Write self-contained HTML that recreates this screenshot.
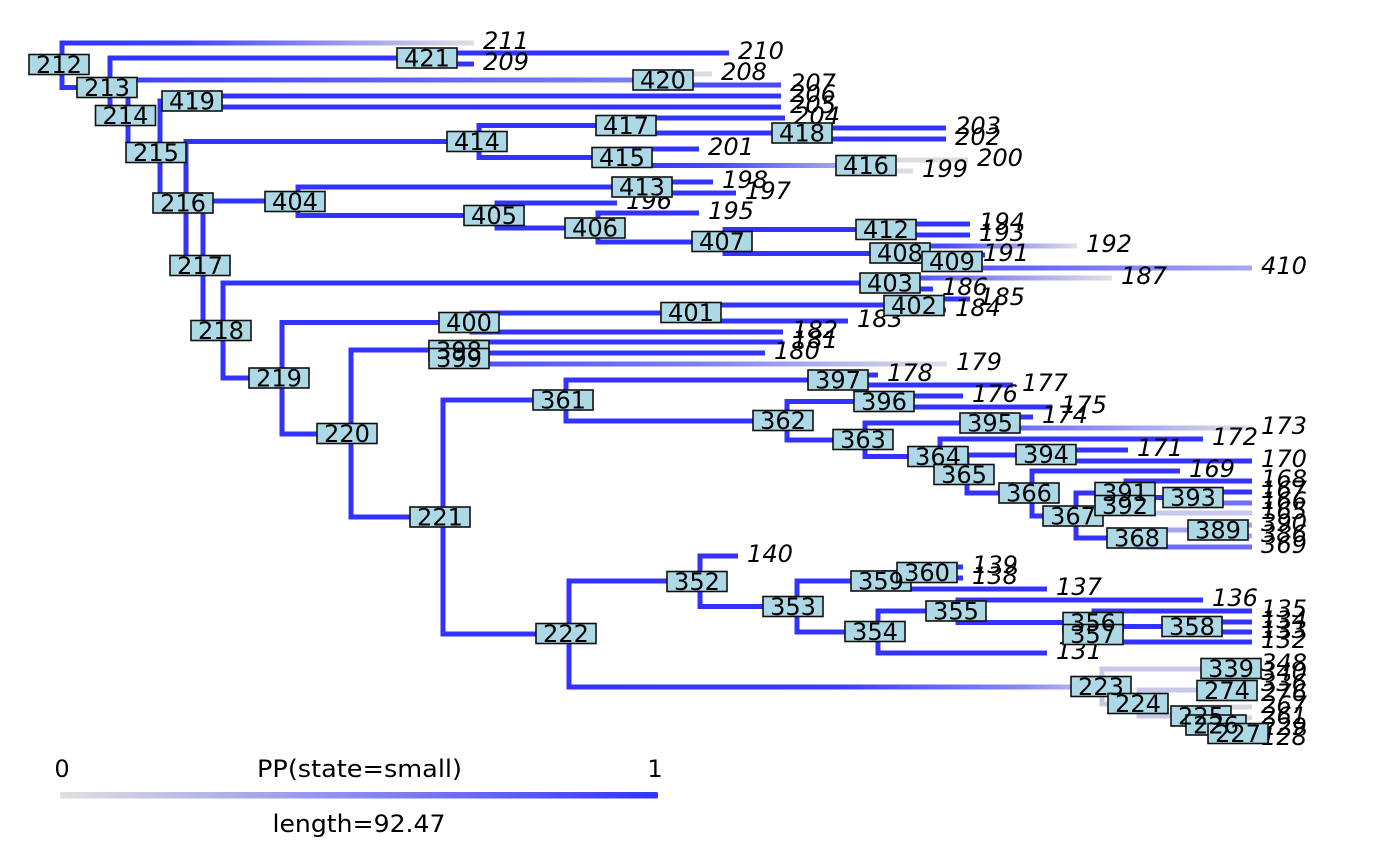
<!DOCTYPE html>
<html><head><meta charset="utf-8"><style>
html,body{margin:0;padding:0;background:#fff;width:1400px;height:866px;overflow:hidden}
svg{display:block}
</style></head><body>
<svg width="1400" height="866" viewBox="0 0 1400 866" xmlns="http://www.w3.org/2000/svg">
<defs>
<linearGradient id="g211" gradientUnits="userSpaceOnUse" x1="60" y1="0" x2="474" y2="0"><stop offset="0" stop-color="#3333ff"/><stop offset="0.3" stop-color="#4242fc"/><stop offset="1" stop-color="#e0e0e4"/></linearGradient>
<linearGradient id="g420" gradientUnits="userSpaceOnUse" x1="126" y1="0" x2="668" y2="0"><stop offset="0" stop-color="#4040ff"/><stop offset="1" stop-color="#8080f0"/></linearGradient>
<linearGradient id="g416" gradientUnits="userSpaceOnUse" x1="623" y1="0" x2="871" y2="0"><stop offset="0" stop-color="#3333ff"/><stop offset="0.4" stop-color="#4a4aff"/><stop offset="1" stop-color="#c0c0ec"/></linearGradient>
<linearGradient id="g192" gradientUnits="userSpaceOnUse" x1="900" y1="0" x2="1077" y2="0"><stop offset="0" stop-color="#3333ff"/><stop offset="0.3" stop-color="#5050ff"/><stop offset="1" stop-color="#e0e0e6"/></linearGradient>
<linearGradient id="g410" gradientUnits="userSpaceOnUse" x1="953" y1="0" x2="1252" y2="0"><stop offset="0" stop-color="#5050ff"/><stop offset="1" stop-color="#a8a8f0"/></linearGradient>
<linearGradient id="g187" gradientUnits="userSpaceOnUse" x1="890" y1="0" x2="1112" y2="0"><stop offset="0" stop-color="#4040ff"/><stop offset="1" stop-color="#e0e0e6"/></linearGradient>
<linearGradient id="g179" gradientUnits="userSpaceOnUse" x1="460" y1="0" x2="947" y2="0"><stop offset="0" stop-color="#4848ff"/><stop offset="0.5" stop-color="#8080f4"/><stop offset="1" stop-color="#e0e0e6"/></linearGradient>
<linearGradient id="g173" gradientUnits="userSpaceOnUse" x1="991" y1="0" x2="1252" y2="0"><stop offset="0" stop-color="#5a5aff"/><stop offset="1" stop-color="#e0e0e6"/></linearGradient>
<linearGradient id="g223" gradientUnits="userSpaceOnUse" x1="567" y1="0" x2="1104" y2="0"><stop offset="0" stop-color="#3333ff"/><stop offset="0.5" stop-color="#3a3aff"/><stop offset="0.85" stop-color="#8a8af0"/><stop offset="1" stop-color="#c8c8ea"/></linearGradient>
<linearGradient id="lg" gradientUnits="userSpaceOnUse" x1="60" y1="0" x2="658" y2="0"><stop offset="0" stop-color="#e0e0e0"/><stop offset="1" stop-color="#3333ff"/></linearGradient>
</defs>

<g fill="none" stroke-width="5">
<path stroke="#3333ff" d="M62 40.5V90 M110 55.5V118.5 M128 77.5V155 M160 98.5V205.5 M186 139V268 M203 198.5V333 M223 280.5V380.5 M282 320V436.5 M351 347.5V519.5 M443 397.5V636.5 M569 578.5V689.5 M430 50.5V66.5 M195 93.5V109.5 M479 123V160 M629 115.5V135.5 M805 125.5V141.5 M625 146.5V168 M298 184.5V218 M645 179.5V195.5 M497 200.5V230.5 M598 210.5V244.5 M725 227V256 M889 221.5V237.5 M903 243.5V264 M955 252.5V270.5 M893 275.5V291.5 M472 310.5V334.5 M694 302.5V323.5 M917 296.5V312.5 M462 339.5V366.5 M566 377.5V423.5 M841 372.5V387.5 M787 399V442.5 M886 393.5V409.5 M865 420.5V459 M993 414.5V430.5 M940 436.5V477 M967 452.5V495.5 M1049 447.5V463.5 M1032 468.5V518.5 M1076 490.5V540.5 M1126 478.5V515.5 M1196 489.5V505.5 M1140 527.5V549.5 M700 553.5V609 M797 578.5V634.5 M884 570V591.5 M930 564.5V580.5 M878 608.5V655.5 M958 597.5V625 M1094 608.5V644.5 M1195 619.5V634.5"/>
<path stroke="#3333ff" d="M59.5 87.5H112.5 M107.5 58H432.5 M107.5 116H130.5 M427.5 53H729 M427.5 64H474 M125.5 152.5H162.5 M157.5 101H197.5 M157.5 203H188.5 M192.5 96H781 M192.5 107H781 M183.5 141.5H481.5 M183.5 265.5H205.5 M476.5 125.5H631.5 M476.5 157.5H627.5 M626.5 118H785 M626.5 133H807.5 M802.5 128H946 M802.5 139H946 M622.5 149H699 M200.5 201H300.5 M200.5 330.5H225.5 M295.5 187H647.5 M295.5 215.5H499.5 M642.5 182H713 M642.5 193H736 M494.5 203H617 M494.5 228H600.5 M595.5 213H699 M595.5 242H727.5 M722.5 229.5H891.5 M722.5 253.5H905.5 M886.5 224H970 M886.5 235H970 M900.5 261.5H957.5 M952.5 255H985 M220.5 283H895.5 M220.5 378H284.5 M890.5 289H933 M279.5 322.5H474.5 M279.5 434H353.5 M469.5 313H696.5 M469.5 332H783 M691.5 305H919.5 M691.5 321H848 M914.5 299H970 M914.5 310H946 M348.5 350H464.5 M348.5 517H445.5 M459.5 342H783 M459.5 353H765 M440.5 400H568.5 M440.5 634H571.5 M563.5 380H843.5 M563.5 421H789.5 M838.5 375H878 M838.5 385H1013 M784.5 401.5H888.5 M784.5 440H867.5 M883.5 396H963 M883.5 407H1052 M862.5 423H995.5 M862.5 456.5H942.5 M990.5 417H1033 M937.5 439H1203 M937.5 474.5H969.5 M964.5 455H1051.5 M964.5 493H1034.5 M1046.5 450H1128 M1046.5 461H1252 M1029.5 471H1180 M1029.5 516H1078.5 M1073.5 493H1128.5 M1073.5 538H1142.5 M1123.5 481H1252 M1123.5 497.5H1198.5 M1193.5 492H1252 M566.5 581H702.5 M697.5 556H738 M697.5 606.5H799.5 M794.5 581H886.5 M794.5 632H880.5 M881.5 572.5H932.5 M881.5 589H1047 M927.5 567H963 M927.5 578H963 M875.5 611H960.5 M875.5 653H1047 M955.5 600H1203 M955.5 622.5H1096.5 M1091.5 611H1252 M1091.5 626.5H1197.5 M1091.5 642H1252 M1192.5 622H1252 M1192.5 632H1252"/>
<path stroke="url(#g211)" d="M59.5 43H474"/>
<path stroke="url(#g420)" d="M125.5 80H668.5"/>
<path stroke="#7a7af0" d="M666 71.5V87.5"/>
<path stroke="#dadae6" d="M663.5 74H712"/>
<path stroke="#4a4aff" d="M663.5 85H781"/>
<path stroke="url(#g416)" d="M622.5 165.5H871.5"/>
<path stroke="#c4c4ea" d="M869 157.5V173.5"/>
<path stroke="#dcdce4" d="M866.5 160H968 M866.5 171H913"/>
<path stroke="url(#g192)" d="M900.5 246H1077"/>
<path stroke="url(#g410)" d="M952.5 268H1252"/>
<path stroke="url(#g187)" d="M890.5 278H1112"/>
<path stroke="url(#g179)" d="M459.5 364H947"/>
<path stroke="url(#g173)" d="M990.5 428H1252"/>
<path stroke="#c8c8ee" d="M1123.5 513H1252"/>
<path stroke="#7070f8" d="M1193.5 503H1252"/>
<path stroke="#a4a4f0" d="M1137.5 530H1223.5 M1221 522.5V538.5 M1218.5 525H1252 M1218.5 536H1252"/>
<path stroke="#6c6cf6" d="M1137.5 547H1252"/>
<path stroke="url(#g223)" d="M566.5 687H1104.5"/>
<path stroke="#c8c8e8" d="M1102 666.5V706.5 M1099.5 669H1235.5 M1099.5 704H1141.5 M1139 687.5V718.5 M1136.5 690H1231.5 M1136.5 716H1205.5"/>
<path stroke="#d8d8e2" d="M1233 662.5V676.5 M1230.5 665H1252 M1230.5 674H1252 M1229 682.5V697.5 M1226.5 685H1252 M1226.5 695H1252 M1203 704.5V727.5 M1200.5 707H1252 M1200.5 725H1220.5 M1218 715.5V736 M1215.5 718H1252 M1215.5 733.5H1242.5 M1240 726.5V741.5 M1237.5 729H1252 M1237.5 739H1252"/>
</g>

<g font-family="'DejaVu Sans','Liberation Sans',sans-serif" font-style="italic" font-size="24" fill="#000">
<text x="483" y="49" textLength="46" lengthAdjust="spacingAndGlyphs">211</text>
<text x="738" y="59" textLength="46" lengthAdjust="spacingAndGlyphs">210</text>
<text x="483" y="70" textLength="46" lengthAdjust="spacingAndGlyphs">209</text>
<text x="721" y="80" textLength="46" lengthAdjust="spacingAndGlyphs">208</text>
<text x="790" y="91" textLength="46" lengthAdjust="spacingAndGlyphs">207</text>
<text x="790" y="102" textLength="46" lengthAdjust="spacingAndGlyphs">206</text>
<text x="790" y="113" textLength="46" lengthAdjust="spacingAndGlyphs">205</text>
<text x="794" y="124" textLength="46" lengthAdjust="spacingAndGlyphs">204</text>
<text x="955" y="134" textLength="46" lengthAdjust="spacingAndGlyphs">203</text>
<text x="955" y="145" textLength="46" lengthAdjust="spacingAndGlyphs">202</text>
<text x="708" y="155" textLength="46" lengthAdjust="spacingAndGlyphs">201</text>
<text x="977" y="166" textLength="46" lengthAdjust="spacingAndGlyphs">200</text>
<text x="922" y="177" textLength="46" lengthAdjust="spacingAndGlyphs">199</text>
<text x="722" y="188" textLength="46" lengthAdjust="spacingAndGlyphs">198</text>
<text x="745" y="199" textLength="46" lengthAdjust="spacingAndGlyphs">197</text>
<text x="626" y="209" textLength="46" lengthAdjust="spacingAndGlyphs">196</text>
<text x="708" y="219" textLength="46" lengthAdjust="spacingAndGlyphs">195</text>
<text x="979" y="230" textLength="46" lengthAdjust="spacingAndGlyphs">194</text>
<text x="979" y="241" textLength="46" lengthAdjust="spacingAndGlyphs">193</text>
<text x="1086" y="252" textLength="46" lengthAdjust="spacingAndGlyphs">192</text>
<text x="983" y="261" textLength="46" lengthAdjust="spacingAndGlyphs">191</text>
<text x="1261" y="274" textLength="46" lengthAdjust="spacingAndGlyphs">410</text>
<text x="1121" y="284" textLength="46" lengthAdjust="spacingAndGlyphs">187</text>
<text x="942" y="295" textLength="46" lengthAdjust="spacingAndGlyphs">186</text>
<text x="979" y="305" textLength="46" lengthAdjust="spacingAndGlyphs">185</text>
<text x="955" y="316" textLength="46" lengthAdjust="spacingAndGlyphs">184</text>
<text x="857" y="327" textLength="46" lengthAdjust="spacingAndGlyphs">183</text>
<text x="792" y="338" textLength="46" lengthAdjust="spacingAndGlyphs">182</text>
<text x="792" y="348" textLength="46" lengthAdjust="spacingAndGlyphs">181</text>
<text x="774" y="359" textLength="46" lengthAdjust="spacingAndGlyphs">180</text>
<text x="956" y="370" textLength="46" lengthAdjust="spacingAndGlyphs">179</text>
<text x="887" y="381" textLength="46" lengthAdjust="spacingAndGlyphs">178</text>
<text x="1022" y="391" textLength="46" lengthAdjust="spacingAndGlyphs">177</text>
<text x="972" y="402" textLength="46" lengthAdjust="spacingAndGlyphs">176</text>
<text x="1061" y="413" textLength="46" lengthAdjust="spacingAndGlyphs">175</text>
<text x="1042" y="423" textLength="46" lengthAdjust="spacingAndGlyphs">174</text>
<text x="1261" y="434" textLength="46" lengthAdjust="spacingAndGlyphs">173</text>
<text x="1212" y="445" textLength="46" lengthAdjust="spacingAndGlyphs">172</text>
<text x="1137" y="456" textLength="46" lengthAdjust="spacingAndGlyphs">171</text>
<text x="1261" y="467" textLength="46" lengthAdjust="spacingAndGlyphs">170</text>
<text x="1189" y="477" textLength="46" lengthAdjust="spacingAndGlyphs">169</text>
<text x="1261" y="487" textLength="46" lengthAdjust="spacingAndGlyphs">168</text>
<text x="1261" y="498" textLength="46" lengthAdjust="spacingAndGlyphs">167</text>
<text x="1261" y="509" textLength="46" lengthAdjust="spacingAndGlyphs">166</text>
<text x="1261" y="519" textLength="46" lengthAdjust="spacingAndGlyphs">165</text>
<text x="1261" y="531" textLength="46" lengthAdjust="spacingAndGlyphs">390</text>
<text x="1261" y="542" textLength="46" lengthAdjust="spacingAndGlyphs">386</text>
<text x="1261" y="553" textLength="46" lengthAdjust="spacingAndGlyphs">369</text>
<text x="747" y="562" textLength="46" lengthAdjust="spacingAndGlyphs">140</text>
<text x="972" y="573" textLength="46" lengthAdjust="spacingAndGlyphs">139</text>
<text x="972" y="584" textLength="46" lengthAdjust="spacingAndGlyphs">138</text>
<text x="1056" y="595" textLength="46" lengthAdjust="spacingAndGlyphs">137</text>
<text x="1212" y="606" textLength="46" lengthAdjust="spacingAndGlyphs">136</text>
<text x="1261" y="617" textLength="46" lengthAdjust="spacingAndGlyphs">135</text>
<text x="1261" y="628" textLength="46" lengthAdjust="spacingAndGlyphs">134</text>
<text x="1261" y="638" textLength="46" lengthAdjust="spacingAndGlyphs">133</text>
<text x="1261" y="648" textLength="46" lengthAdjust="spacingAndGlyphs">132</text>
<text x="1056" y="659" textLength="46" lengthAdjust="spacingAndGlyphs">131</text>
<text x="1261" y="671" textLength="46" lengthAdjust="spacingAndGlyphs">348</text>
<text x="1261" y="680" textLength="46" lengthAdjust="spacingAndGlyphs">340</text>
<text x="1261" y="691" textLength="46" lengthAdjust="spacingAndGlyphs">336</text>
<text x="1261" y="701" textLength="46" lengthAdjust="spacingAndGlyphs">276</text>
<text x="1261" y="713" textLength="46" lengthAdjust="spacingAndGlyphs">267</text>
<text x="1261" y="724" textLength="46" lengthAdjust="spacingAndGlyphs">261</text>
<text x="1261" y="735" textLength="46" lengthAdjust="spacingAndGlyphs">229</text>
<text x="1261" y="745" textLength="46" lengthAdjust="spacingAndGlyphs">128</text>
</g>

<g fill="#add8e6" stroke="#111" stroke-width="1.6">
<rect x="29" y="54.5" width="60" height="20"/>
<rect x="77" y="77.5" width="60" height="20"/>
<rect x="95.5" y="105.5" width="60" height="20"/>
<rect x="126" y="142.5" width="60" height="20"/>
<rect x="153" y="193" width="60" height="20"/>
<rect x="170" y="255.5" width="60" height="20"/>
<rect x="191" y="320.5" width="60" height="20"/>
<rect x="249" y="368" width="60" height="20"/>
<rect x="317" y="423.5" width="60" height="20"/>
<rect x="410" y="507" width="60" height="20"/>
<rect x="536" y="623.5" width="60" height="20"/>
<rect x="1071" y="676.5" width="60" height="20"/>
<rect x="1108" y="693.5" width="60" height="20"/>
<rect x="1171" y="706" width="60" height="20"/>
<rect x="1186" y="715" width="60" height="20"/>
<rect x="1208" y="723.5" width="60" height="20"/>
<rect x="1197" y="680.5" width="60" height="20"/>
<rect x="1201" y="658.5" width="60" height="20"/>
<rect x="667" y="571.5" width="60" height="20"/>
<rect x="763" y="596.5" width="60" height="20"/>
<rect x="845" y="621.5" width="60" height="20"/>
<rect x="926" y="601" width="60" height="20"/>
<rect x="1063" y="612.5" width="60" height="20"/>
<rect x="1063" y="624.5" width="60" height="20"/>
<rect x="1162" y="616.5" width="60" height="20"/>
<rect x="851" y="571" width="60" height="20"/>
<rect x="897" y="562.5" width="60" height="20"/>
<rect x="533" y="390" width="60" height="20"/>
<rect x="753" y="410.5" width="60" height="20"/>
<rect x="833" y="429.5" width="60" height="20"/>
<rect x="908" y="446.5" width="60" height="20"/>
<rect x="934" y="464.5" width="60" height="20"/>
<rect x="999" y="483" width="60" height="20"/>
<rect x="1043" y="506" width="60" height="20"/>
<rect x="1107" y="528" width="60" height="20"/>
<rect x="1188" y="520" width="60" height="20"/>
<rect x="1095" y="482.5" width="60" height="20"/>
<rect x="1095" y="495.5" width="60" height="20"/>
<rect x="1163" y="487.5" width="60" height="20"/>
<rect x="1016" y="444.5" width="60" height="20"/>
<rect x="960" y="413" width="60" height="20"/>
<rect x="854" y="391.5" width="60" height="20"/>
<rect x="808" y="370" width="60" height="20"/>
<rect x="429" y="340.5" width="60" height="20"/>
<rect x="429" y="348.5" width="60" height="20"/>
<rect x="439" y="312.5" width="60" height="20"/>
<rect x="661" y="302.5" width="60" height="20"/>
<rect x="884" y="295.5" width="60" height="20"/>
<rect x="860" y="273" width="60" height="20"/>
<rect x="265" y="191.5" width="60" height="20"/>
<rect x="464" y="205.5" width="60" height="20"/>
<rect x="565" y="218" width="60" height="20"/>
<rect x="692" y="231.5" width="60" height="20"/>
<rect x="870" y="243" width="60" height="20"/>
<rect x="922" y="251.5" width="60" height="20"/>
<rect x="856" y="219.5" width="60" height="20"/>
<rect x="612" y="177" width="60" height="20"/>
<rect x="447" y="131.5" width="60" height="20"/>
<rect x="592" y="147.5" width="60" height="20"/>
<rect x="836" y="155.5" width="60" height="20"/>
<rect x="596" y="115.5" width="60" height="20"/>
<rect x="772" y="123" width="60" height="20"/>
<rect x="162" y="91" width="60" height="20"/>
<rect x="633" y="70" width="60" height="20"/>
<rect x="397" y="48" width="60" height="20"/>
</g>

<g font-family="'DejaVu Sans','Liberation Sans',sans-serif" font-size="24" fill="#000" text-anchor="middle">
<text x="59" y="73" textLength="46" lengthAdjust="spacingAndGlyphs">212</text>
<text x="107" y="96" textLength="46" lengthAdjust="spacingAndGlyphs">213</text>
<text x="125.5" y="124" textLength="46" lengthAdjust="spacingAndGlyphs">214</text>
<text x="156" y="161" textLength="46" lengthAdjust="spacingAndGlyphs">215</text>
<text x="183" y="211.5" textLength="46" lengthAdjust="spacingAndGlyphs">216</text>
<text x="200" y="274" textLength="46" lengthAdjust="spacingAndGlyphs">217</text>
<text x="221" y="339" textLength="46" lengthAdjust="spacingAndGlyphs">218</text>
<text x="279" y="386.5" textLength="46" lengthAdjust="spacingAndGlyphs">219</text>
<text x="347" y="442" textLength="46" lengthAdjust="spacingAndGlyphs">220</text>
<text x="440" y="525.5" textLength="46" lengthAdjust="spacingAndGlyphs">221</text>
<text x="566" y="642" textLength="46" lengthAdjust="spacingAndGlyphs">222</text>
<text x="1101" y="695" textLength="46" lengthAdjust="spacingAndGlyphs">223</text>
<text x="1138" y="712" textLength="46" lengthAdjust="spacingAndGlyphs">224</text>
<text x="1201" y="724.5" textLength="46" lengthAdjust="spacingAndGlyphs">225</text>
<text x="1216" y="733.5" textLength="46" lengthAdjust="spacingAndGlyphs">226</text>
<text x="1238" y="742" textLength="46" lengthAdjust="spacingAndGlyphs">227</text>
<text x="1227" y="699" textLength="46" lengthAdjust="spacingAndGlyphs">274</text>
<text x="1231" y="677" textLength="46" lengthAdjust="spacingAndGlyphs">339</text>
<text x="697" y="590" textLength="46" lengthAdjust="spacingAndGlyphs">352</text>
<text x="793" y="615" textLength="46" lengthAdjust="spacingAndGlyphs">353</text>
<text x="875" y="640" textLength="46" lengthAdjust="spacingAndGlyphs">354</text>
<text x="956" y="619.5" textLength="46" lengthAdjust="spacingAndGlyphs">355</text>
<text x="1093" y="631" textLength="46" lengthAdjust="spacingAndGlyphs">356</text>
<text x="1093" y="643" textLength="46" lengthAdjust="spacingAndGlyphs">357</text>
<text x="1192" y="635" textLength="46" lengthAdjust="spacingAndGlyphs">358</text>
<text x="881" y="589.5" textLength="46" lengthAdjust="spacingAndGlyphs">359</text>
<text x="927" y="581" textLength="46" lengthAdjust="spacingAndGlyphs">360</text>
<text x="563" y="408.5" textLength="46" lengthAdjust="spacingAndGlyphs">361</text>
<text x="783" y="429" textLength="46" lengthAdjust="spacingAndGlyphs">362</text>
<text x="863" y="448" textLength="46" lengthAdjust="spacingAndGlyphs">363</text>
<text x="938" y="465" textLength="46" lengthAdjust="spacingAndGlyphs">364</text>
<text x="964" y="483" textLength="46" lengthAdjust="spacingAndGlyphs">365</text>
<text x="1029" y="501.5" textLength="46" lengthAdjust="spacingAndGlyphs">366</text>
<text x="1073" y="524.5" textLength="46" lengthAdjust="spacingAndGlyphs">367</text>
<text x="1137" y="546.5" textLength="46" lengthAdjust="spacingAndGlyphs">368</text>
<text x="1218" y="538.5" textLength="46" lengthAdjust="spacingAndGlyphs">389</text>
<text x="1125" y="501" textLength="46" lengthAdjust="spacingAndGlyphs">391</text>
<text x="1125" y="514" textLength="46" lengthAdjust="spacingAndGlyphs">392</text>
<text x="1193" y="506" textLength="46" lengthAdjust="spacingAndGlyphs">393</text>
<text x="1046" y="463" textLength="46" lengthAdjust="spacingAndGlyphs">394</text>
<text x="990" y="431.5" textLength="46" lengthAdjust="spacingAndGlyphs">395</text>
<text x="884" y="410" textLength="46" lengthAdjust="spacingAndGlyphs">396</text>
<text x="838" y="388.5" textLength="46" lengthAdjust="spacingAndGlyphs">397</text>
<text x="459" y="359" textLength="46" lengthAdjust="spacingAndGlyphs">398</text>
<text x="459" y="367" textLength="46" lengthAdjust="spacingAndGlyphs">399</text>
<text x="469" y="331" textLength="46" lengthAdjust="spacingAndGlyphs">400</text>
<text x="691" y="321" textLength="46" lengthAdjust="spacingAndGlyphs">401</text>
<text x="914" y="314" textLength="46" lengthAdjust="spacingAndGlyphs">402</text>
<text x="890" y="291.5" textLength="46" lengthAdjust="spacingAndGlyphs">403</text>
<text x="295" y="210" textLength="46" lengthAdjust="spacingAndGlyphs">404</text>
<text x="494" y="224" textLength="46" lengthAdjust="spacingAndGlyphs">405</text>
<text x="595" y="236.5" textLength="46" lengthAdjust="spacingAndGlyphs">406</text>
<text x="722" y="250" textLength="46" lengthAdjust="spacingAndGlyphs">407</text>
<text x="900" y="261.5" textLength="46" lengthAdjust="spacingAndGlyphs">408</text>
<text x="952" y="270" textLength="46" lengthAdjust="spacingAndGlyphs">409</text>
<text x="886" y="238" textLength="46" lengthAdjust="spacingAndGlyphs">412</text>
<text x="642" y="195.5" textLength="46" lengthAdjust="spacingAndGlyphs">413</text>
<text x="477" y="150" textLength="46" lengthAdjust="spacingAndGlyphs">414</text>
<text x="622" y="166" textLength="46" lengthAdjust="spacingAndGlyphs">415</text>
<text x="866" y="174" textLength="46" lengthAdjust="spacingAndGlyphs">416</text>
<text x="626" y="134" textLength="46" lengthAdjust="spacingAndGlyphs">417</text>
<text x="802" y="141.5" textLength="46" lengthAdjust="spacingAndGlyphs">418</text>
<text x="192" y="109.5" textLength="46" lengthAdjust="spacingAndGlyphs">419</text>
<text x="663" y="88.5" textLength="46" lengthAdjust="spacingAndGlyphs">420</text>
<text x="427" y="66.5" textLength="46" lengthAdjust="spacingAndGlyphs">421</text>
</g>

<g font-family="'DejaVu Sans','Liberation Sans',sans-serif" font-size="24" fill="#000" text-anchor="middle">
<text x="62" y="777">0</text>
<text x="359.5" y="777" textLength="205" lengthAdjust="spacingAndGlyphs">PP(state=small)</text>
<text x="655" y="777">1</text>
<text x="359" y="832" textLength="173" lengthAdjust="spacingAndGlyphs">length=92.47</text>
</g>
<rect x="60" y="792" width="598" height="6.5" rx="1.5" fill="url(#lg)"/>
</svg>
</body></html>
